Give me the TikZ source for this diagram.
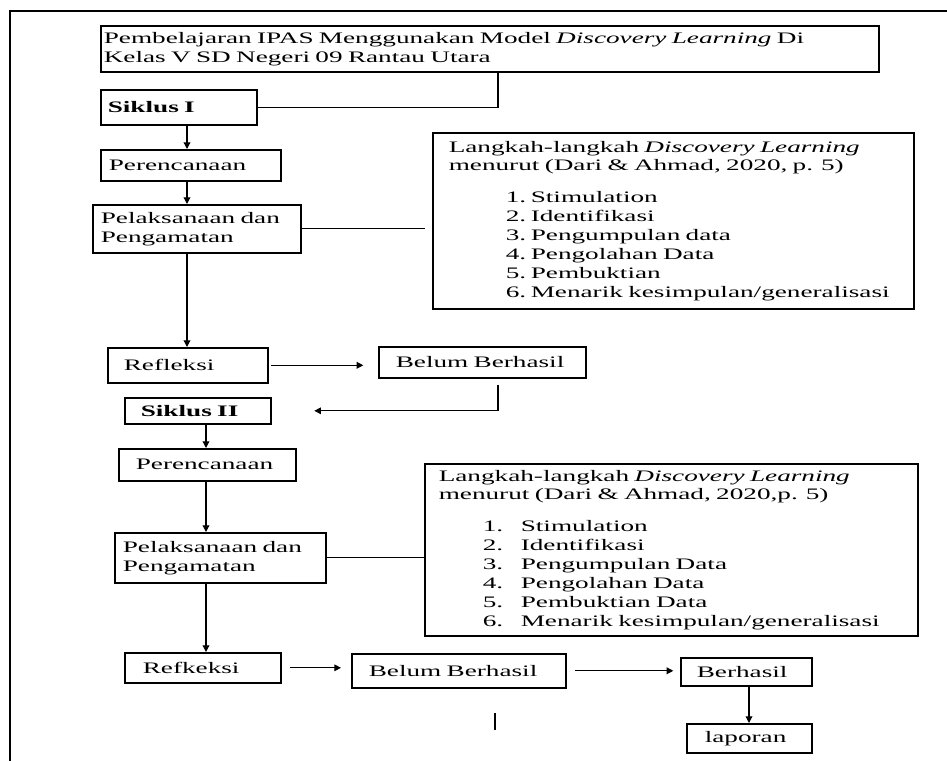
\documentclass[tikz,border=0pt]{standalone}
\usepackage{fontspec}
\setmainfont[FakeStretch=1.7]{Liberation Serif}
\usetikzlibrary{arrows.meta}
\begin{document}
\begin{tikzpicture}[x=0.75pt, y=-0.75pt,
  kotak/.style={draw, line width=1.2pt, anchor=north west, align=left, inner ysep=0pt, font=\fontsize{12}{14.25}\selectfont},
  garis/.style={line width=0.9pt},
  panah/.style={garis, -{Triangle[length=5pt,width=5pt]}}]
\useasboundingbox (0,0) rectangle (947,761);
\draw[line width=0.8pt] (10,761) |- (947,11);
\coordinate (jalurA) at (187,0);
\coordinate (jalurB) at (206,0);
\coordinate (jalurC) at (498,0);
\coordinate (jalurD) at (749,0);
\node[kotak, inner xsep=2.25pt, text width=579pt, minimum height=34.5pt] (judul) at (100,25){Pembelajaran IPAS Menggunakan Model \textit{Discovery Learning} Di\\Kelas V SD Negeri 09 Rantau Utara};
\node[kotak, inner xsep=5.25pt, text width=106.5pt, minimum height=26.25pt] (siklus1) at (100,89){\textbf{Siklus I}};
\node[kotak, inner xsep=6pt, text width=123pt, minimum height=23.25pt] (renc1) at (100,149){Perencanaan};
\node[kotak, inner xsep=6pt, text width=144pt, minimum height=36pt] (laks1) at (92,204){Pelaksanaan dan\\Pengamatan};
\node[kotak, inner xsep=12pt, text width=336.75pt, minimum height=132pt] (langkah1) at (432,132){Langkah-langkah \textit{Discovery Learning}\\[-0.75pt]
menurut (Dari \& Ahmad, 2020, p. 5)\\[9.75pt]
\hspace*{42.75pt}\makebox[18.75pt][l]{1.}Stimulation\\
\hspace*{42.75pt}\makebox[18.75pt][l]{2.}Identifikasi\\
\hspace*{42.75pt}\makebox[18.75pt][l]{3.}Pengumpulan data\\
\hspace*{42.75pt}\makebox[18.75pt][l]{4.}Pengolahan Data\\
\hspace*{42.75pt}\makebox[18.75pt][l]{5.}Pembuktian\\
\hspace*{42.75pt}\makebox[18.75pt][l]{6.}Menarik kesimpulan/generalisasi};
\node[kotak, inner xsep=12pt, text width=96pt, minimum height=26.25pt] (refl1) at (107,347){Refleksi};
\node[kotak, inner xsep=12.75pt, text width=129.75pt, minimum height=23.25pt] (belum1) at (378,346){Belum Berhasil};
\node[kotak, inner xsep=12pt, text width=85.5pt, minimum height=19.5pt] (siklus2) at (124,397){\textbf{Siklus II}};
\node[kotak, inner xsep=12.75pt, text width=107.25pt, minimum height=24pt] (renc2) at (118,448){Perencanaan};
\node[kotak, inner xsep=6pt, text width=146.25pt, minimum height=37.5pt] (laks2) at (114,532){Pelaksanaan dan\\Pengamatan};
\node[kotak, inner xsep=10.5pt, text width=348.75pt, minimum height=129pt] (langkah2) at (424,463){Langkah-langkah \textit{Discovery Learning}\\[-0.75pt]
menurut (Dari \& Ahmad, 2020,p. 5)\\[9.75pt]
\hspace*{33pt}\makebox[28.5pt][l]{1.}Stimulation\\
\hspace*{33pt}\makebox[28.5pt][l]{2.}Identifikasi\\
\hspace*{33pt}\makebox[28.5pt][l]{3.}Pengumpulan Data\\
\hspace*{33pt}\makebox[28.5pt][l]{4.}Pengolahan Data\\
\hspace*{33pt}\makebox[28.5pt][l]{5.}Pembuktian Data\\
\hspace*{33pt}\makebox[28.5pt][l]{6.}Menarik kesimpulan/generalisasi};
\node[kotak, inner xsep=13.5pt, text width=90pt, minimum height=22.5pt] (refk) at (124,652){Refkeksi};
\node[kotak, inner xsep=12.75pt, text width=135pt, minimum height=25.5pt] (belum2) at (351,653){Belum Berhasil};
\node[kotak, inner xsep=12pt, text width=74.25pt, minimum height=21pt] (berhasil) at (680,657){Berhasil};
\node[kotak, inner xsep=13.5pt, text width=66.75pt, minimum height=21.75pt] (laporan) at (686,723){laporan};
\draw[garis] (judul.south -| jalurC) |- (siklus1.east);
\draw[panah] (siklus1.south -| jalurA) -- (renc1.north -| jalurA);
\draw[panah] (renc1.south -| jalurA) -- (laks1.north -| jalurA);
\draw[panah] (laks1.south -| jalurA) -- (refl1.north -| jalurA);
\draw[garis, shorten >=5pt] (laks1.east) -- (laks1.east -| langkah1.west);
\draw[panah, shorten <=2pt, shorten >=11pt] (refl1.east) -- (refl1.east -| belum1.west);
\draw[panah, shorten <=4.5pt, shorten >=32pt] (belum1.south -| jalurC) |- (siklus2.east);
\draw[panah] (siklus2.south -| jalurB) -- (renc2.north -| jalurB);
\draw[panah] (renc2.south -| jalurB) -- (laks2.north -| jalurB);
\draw[panah] (laks2.south -| jalurB) -- (refk.north -| jalurB);
\draw[garis] (laks2.east) -- (laks2.east -| langkah2.west);
\draw[panah, shorten <=6pt, shorten >=7.5pt] (refk.east) -- (refk.east -| belum2.west);
\draw[panah, shorten <=6pt, shorten >=5pt] (belum2.east) -- (belum2.east -| berhasil.west);
\draw[panah] (berhasil.south -| jalurD) -- (laporan.north -| jalurD);
\draw[garis] (495,713) -- (495,730);
\end{tikzpicture}
\end{document}
